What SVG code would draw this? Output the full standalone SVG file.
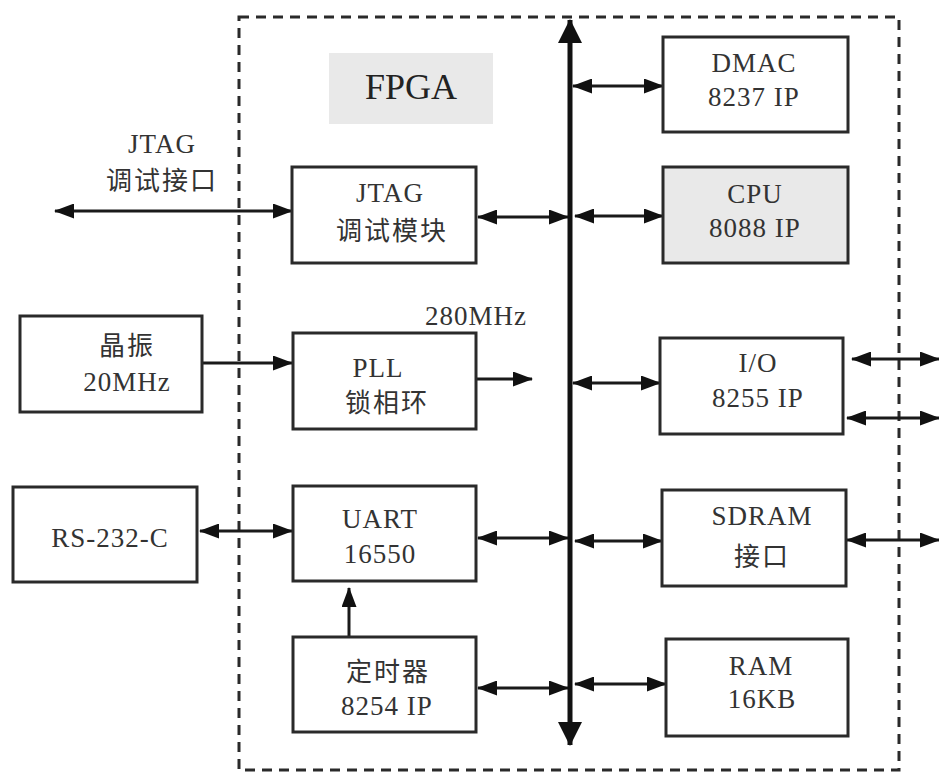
<svg xmlns="http://www.w3.org/2000/svg" width="939" height="773" viewBox="0 0 939 773">
<defs>
<style>
.bx{fill:#fff;stroke:#2a2a2a;stroke-width:3}
.gr{fill:#e9e9e9}
.t{font-family:"Liberation Serif","Noto Sans CJK SC",serif;font-size:27px;fill:#333;text-anchor:middle;letter-spacing:1px}
.c{font-family:"Noto Sans CJK SC","Liberation Serif",sans-serif;font-size:26px;fill:#333;text-anchor:middle;letter-spacing:2px}
.ln{stroke:#1a1a1a;stroke-width:3;fill:none}
.da{fill:none;stroke:#2a2a2a;stroke-width:3;stroke-dasharray:10 7}
</style>
<marker id="ah" markerUnits="userSpaceOnUse" viewBox="0 0 20 15" markerWidth="20" markerHeight="15" refX="19" refY="7.5" orient="auto-start-reverse">
<path d="M0,0 L20,7.5 L0,15 z" fill="#111"/>
</marker>
<marker id="bh" markerUnits="userSpaceOnUse" viewBox="0 0 24 24" markerWidth="24" markerHeight="24" refX="23" refY="12" orient="auto-start-reverse">
<path d="M0,0 L24,12 L0,24 z" fill="#111"/>
</marker>
</defs>
<rect x="0" y="0" width="939" height="773" fill="#fff"/>
<g id="fpga-frame">
<rect class="da" x="239" y="17" width="660" height="753"/>
<rect class="gr" x="329" y="53" width="164" height="71"/>
<text class="t" x="411" y="99" style="font-size:36px;fill:#222;letter-spacing:0">FPGA</text>
</g>
<g id="connectors">
<line x1="570" y1="20" x2="570" y2="745" stroke="#111" stroke-width="5" marker-start="url(#bh)" marker-end="url(#bh)"/>
<line class="ln" x1="573" y1="86" x2="663" y2="86" marker-start="url(#ah)" marker-end="url(#ah)"/>
<line class="ln" x1="575" y1="216" x2="663" y2="216" marker-start="url(#ah)" marker-end="url(#ah)"/>
<line class="ln" x1="478" y1="217" x2="568" y2="217" marker-start="url(#ah)" marker-end="url(#ah)"/>
<line class="ln" x1="55" y1="211" x2="292" y2="211" marker-start="url(#ah)" marker-end="url(#ah)"/>
<line class="ln" x1="202" y1="363" x2="292" y2="363" marker-end="url(#ah)"/>
<line class="ln" x1="476" y1="379" x2="532" y2="379" marker-end="url(#ah)"/>
<line class="ln" x1="573" y1="383" x2="660" y2="383" marker-start="url(#ah)" marker-end="url(#ah)"/>
<line class="ln" x1="852" y1="359" x2="939" y2="359" marker-start="url(#ah)" marker-end="url(#ah)"/>
<line class="ln" x1="847" y1="418" x2="939" y2="418" marker-start="url(#ah)" marker-end="url(#ah)"/>
<line class="ln" x1="200" y1="531" x2="292" y2="531" marker-start="url(#ah)" marker-end="url(#ah)"/>
<line class="ln" x1="478" y1="538" x2="568" y2="538" marker-start="url(#ah)" marker-end="url(#ah)"/>
<line class="ln" x1="575" y1="541" x2="662" y2="541" marker-start="url(#ah)" marker-end="url(#ah)"/>
<line class="ln" x1="847" y1="540" x2="939" y2="540" marker-start="url(#ah)" marker-end="url(#ah)"/>
<line class="ln" x1="349" y1="637" x2="349" y2="588" marker-end="url(#ah)"/>
<line class="ln" x1="478" y1="688" x2="568" y2="688" marker-start="url(#ah)" marker-end="url(#ah)"/>
<line class="ln" x1="575" y1="684" x2="666" y2="684" marker-start="url(#ah)" marker-end="url(#ah)"/>
</g>
<g id="jtag-ext">
<text class="t" x="162" y="153">JTAG</text>
<text class="c" x="162" y="190">调试接口</text>
</g>
<g id="freq-label">
<text class="t" x="476" y="325">280MHz</text>
</g>
<g id="jtag">
<rect class="bx" x="292" y="167" width="184" height="96"/>
<text class="t" x="390" y="202">JTAG</text>
<text class="c" x="392" y="240">调试模块</text>
</g>
<g id="dmac">
<rect class="bx" x="663" y="37" width="185" height="95"/>
<text class="t" x="754" y="72">DMAC</text>
<text class="t" x="754" y="106">8237 IP</text>
</g>
<g id="cpu">
<rect class="bx gr" x="663" y="167" width="185" height="96" style="fill:#e9e9e9"/>
<text class="t" x="755" y="203">CPU</text>
<text class="t" x="755" y="237">8088 IP</text>
</g>
<g id="crystal">
<rect class="bx" x="20" y="316" width="182" height="96"/>
<text class="c" x="127" y="355">晶振</text>
<text class="t" x="127" y="391">20MHz</text>
</g>
<g id="pll">
<rect class="bx" x="293" y="333" width="183" height="96"/>
<text class="t" x="378" y="377">PLL</text>
<text class="c" x="387" y="412">锁相环</text>
</g>
<g id="io">
<rect class="bx" x="660" y="338" width="183" height="96"/>
<text class="t" x="758" y="372">I/O</text>
<text class="t" x="758" y="407">8255 IP</text>
</g>
<g id="rs232">
<rect class="bx" x="13" y="487" width="184" height="95"/>
<text class="t" x="110" y="547">RS-232-C</text>
</g>
<g id="uart">
<rect class="bx" x="293" y="486" width="183" height="95"/>
<text class="t" x="380" y="528">UART</text>
<text class="t" x="380" y="563">16550</text>
</g>
<g id="sdram">
<rect class="bx" x="662" y="490" width="184" height="96"/>
<text class="t" x="762" y="525">SDRAM</text>
<text class="c" x="762" y="566">接口</text>
</g>
<g id="timer">
<rect class="bx" x="293" y="637" width="183" height="95"/>
<text class="c" x="388" y="681">定时器</text>
<text class="t" x="387" y="715">8254 IP</text>
</g>
<g id="ram">
<rect class="bx" x="666" y="639" width="182" height="97"/>
<text class="t" x="761" y="675">RAM</text>
<text class="t" x="762" y="708">16KB</text>
</g>
</svg>
